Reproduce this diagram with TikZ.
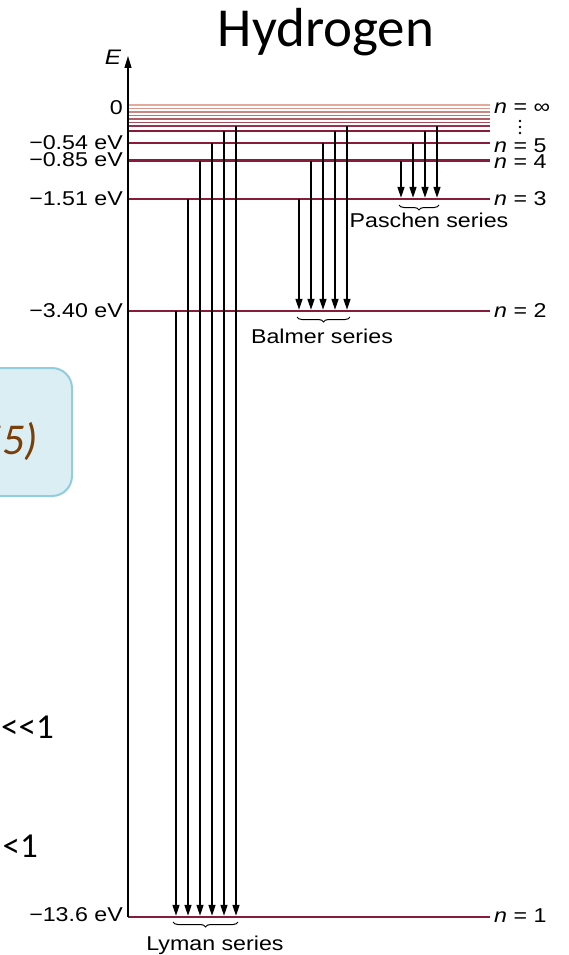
\documentclass[tikz,border=0pt]{standalone}
\usepackage{fontspec}
\setmainfont{Liberation Sans}
\newfontfamily\slidefont{Carlito}
\usepackage{graphicx}
\usetikzlibrary{arrows.meta, decorations.pathreplacing, calc}

\definecolor{levelred}{RGB}{135,28,58}
\definecolor{levelpale}{RGB}{238,182,162}
\definecolor{boxfill}{RGB}{218,238,243}
\definecolor{boxedge}{RGB}{146,205,222}
\definecolor{notebrown}{RGB}{122,62,8}

% the figure text is stretched sideways
\newcommand{\stretchtext}[1]{\scalebox{1.16}[1]{#1}}

\tikzset{
  levelline/.style={line width=2.4pt, draw=levelred},
  emission/.style={line width=1.3pt, -{Triangle[length=11pt,width=7pt]}, shorten >=1.2pt},
  energy/.style={font=\fontsize{20}{23}\selectfont, inner sep=0pt},
  seriesbrace/.style={decorate, decoration={brace, mirror, amplitude=5pt}, line width=1pt},
}

\begin{document}
\begin{tikzpicture}[x=1pt, y=-1pt]
  \useasboundingbox (0,0) rectangle (568,955);
  \clip (0,0) rectangle (568,955);

  % slide fragments at the left edge
  \draw[fill=boxfill, draw=boxedge, line width=2pt, rounded corners=20pt] (-40,368) rectangle (72,496);
  \node[font=\slidefont\itshape\fontsize{44}{50}\selectfont, text=notebrown, inner sep=0pt, anchor=east] (eqref) at (38,441) {55)};
  \node[font=\slidefont\fontsize{35}{40}\selectfont, inner sep=0pt, anchor=base east] (muchless) at (54,738) {<<1};
  \node[font=\slidefont\fontsize{35}{40}\selectfont, inner sep=0pt, anchor=base east] (less) at (38,857) {<1};

  % title
  \node[font=\slidefont\fontsize{55}{62}\selectfont, inner sep=0pt, anchor=base] (title) at (326,47) {Hydrogen};

  % energy levels
  \foreach \n/\y in {1/917, 2/311, 3/199, 4/160.5, 5/143, 6/131}{
    \coordinate (L\n) at (128,\y);
    \coordinate (R\n) at (490,\y);
    \draw[levelline] (L\n) -- (R\n);
  }
  % crowded upper levels, fading toward n = infinity
  \foreach \n/\y/\k in {7/126/85, 8/122.5/70, 9/119/58, 10/115.5/45, 11/112/32, 12/108.5/20, 13/105/8}{
    \coordinate (L\n) at (128,\y);
    \coordinate (R\n) at (490,\y);
    \draw[levelline, line width=1.9pt, draw=levelred!\k!levelpale] (L\n) -- (R\n);
  }

  % energy axis
  \coordinate (Etip) at (128,56);
  \draw[line width=1.3pt, -{Triangle[length=12pt,width=7pt]}] (L1) -- (Etip);
  \node[energy, font=\itshape\fontsize{21}{24}\selectfont] (Elab) at (113,57) {\stretchtext{E}};

  % energies on the left
  \foreach \y/\txt in {108/0, 143/−0.54 eV, 160/−0.85 eV, 199/−1.51 eV, 311/−3.40 eV, 915/−13.6 eV}
    \node[energy, anchor=east] at (123,\y) {\stretchtext{\txt}};

  % quantum numbers on the right
  \foreach \y/\m in {108/∞, 146/5, 162/4, 199/3, 311/2, 916/1}
    \node[energy, anchor=west] at (494,\y) {\stretchtext{\textit{n} = \m}};
  \foreach \y in {121,127,133}
    \fill (520,\y) circle (1.4pt);

  % Lyman series
  \foreach \n/\x in {2/176, 3/188, 4/200, 5/212, 6/224, 7/236}
    \draw[emission] (\x,0 |- L\n) -- (\x,0 |- L1);
  % Balmer series
  \foreach \n/\x in {3/299, 4/311, 5/323, 6/335, 7/347}
    \draw[emission] (\x,0 |- L\n) -- (\x,0 |- L2);
  % Paschen series
  \foreach \n/\x in {4/401, 5/413, 6/425, 7/437}
    \draw[emission] (\x,0 |- L\n) -- (\x,0 |- L3);

  % series braces and names
  \draw[seriesbrace] (173,922) -- (238,922);
  \draw[seriesbrace] (297,317) -- (350,317);
  \draw[seriesbrace] (399,205) -- (439,205);
  \node[energy] (paschen) at (429,220) {\stretchtext{Paschen series}};
  \node[energy] (balmer) at (322,336) {\stretchtext{Balmer series}};
  \node[energy, anchor=base] (lyman) at (215,950) {\stretchtext{Lyman series}};
\end{tikzpicture}
\end{document}
